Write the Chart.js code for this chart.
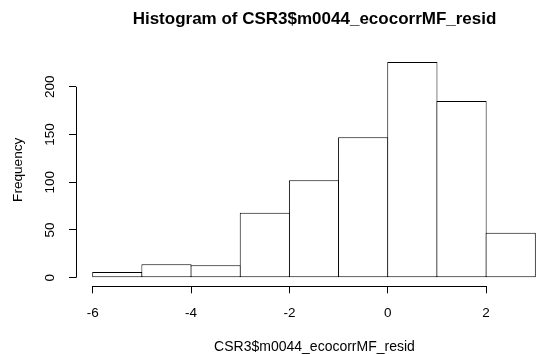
<!DOCTYPE html>
<html>
<head>
<meta charset="utf-8">
<script src="https://cdn.jsdelivr.net/npm/chart.js@4.4.1/dist/chart.umd.min.js"></script>
<style>
  html, body { margin: 0; padding: 0; background: #fff; overflow: hidden; }
  /* R's plot region runs a little past the right edge of the picture */
  #wrap { width: 536px; height: 354px; overflow: hidden; }
</style>
</head>
<body>
<div id="wrap"><canvas id="hist" width="553" height="354"></canvas></div>
<script>
// histogram bins (width 1) and their counts
const binMids = [-5.5, -4.5, -3.5, -2.5, -1.5, -0.5, 0.5, 1.5, 2.5];
const counts = [6, 14, 13, 68, 102, 147, 226, 185, 47];
const xTicks = [-6, -4, -2, 0, 2];
const yTicks = [0, 50, 100, 150, 200];

Chart.defaults.font.family = '"Liberation Sans", Arial, sans-serif';
Chart.defaults.color = '#000';

// R style axis lines: only span from first to last tick
const axisLines = {
    id: 'axisLines',
    afterDraw(chart) {
        const {ctx, scales: {x, y}} = chart;
        const xl = Math.round(x.top) + 0.5;
        const yl = Math.round(y.right) + 0.5;
        ctx.save();
        ctx.strokeStyle = '#000';
        ctx.lineWidth = 1;
        ctx.beginPath();
        ctx.moveTo(x.getPixelForValue(xTicks[0]), xl);
        ctx.lineTo(x.getPixelForValue(xTicks[xTicks.length - 1]), xl);
        ctx.moveTo(yl, y.getPixelForValue(yTicks[0]));
        ctx.lineTo(yl, y.getPixelForValue(yTicks[yTicks.length - 1]));
        ctx.stroke();
        ctx.restore();
    }
};

new Chart(document.getElementById('hist'), {
    type: 'bar',
    data: {
        datasets: [{
            data: binMids.map((m, i) => ({x: m, y: counts[i]})),
            backgroundColor: '#fff',
            borderColor: '#000',
            borderWidth: 1,
            borderSkipped: false,
            barPercentage: 1.021,
            categoryPercentage: 1,
            grouped: false
        }]
    },
    options: {
        responsive: false,
        animation: false,
        devicePixelRatio: 1,
        layout: { padding: 0 },
        plugins: {
            legend: { display: false },
            tooltip: { enabled: false },
            title: {
                display: true,
                text: 'Histogram of CSR3$m0044_ecocorrMF_resid',
                fullSize: false,
                color: '#000',
                font: { size: 17, weight: 'bold' },
                padding: { top: 9.3, bottom: 23.6 }
            }
        },
        scales: {
            x: {
                type: 'linear',
                offset: false,
                min: -6.34,
                max: 3.36,
                afterBuildTicks: s => { s.ticks = xTicks.map(v => ({value: v})); },
                afterFit: s => { s.height = 67.7; },
                grid: { offset: false, drawOnChartArea: false, tickLength: 7, color: '#000' },
                border: { display: false },
                ticks: { font: { size: 13.5 }, color: '#000', padding: 12, maxRotation: 0 },
                title: {
                    display: true,
                    text: 'CSR3$m0044_ecocorrMF_resid',
                    font: { size: 14, lineHeight: 1 },
                    color: '#000',
                    padding: { top: 0, bottom: 0 }
                }
            },
            y: {
                min: -9.04,
                max: 235.04,
                afterBuildTicks: s => { s.ticks = yTicks.map(v => ({value: v})); },
                afterFit: s => { s.width = 76; },
                grid: { drawOnChartArea: false, tickLength: 7, color: '#000' },
                border: { display: false },
                ticks: { font: { size: 13.5 }, color: '#000', padding: 7, minRotation: 90, maxRotation: 90, crossAlign: 'center' },
                title: {
                    display: true,
                    text: 'Frequency',
                    font: { size: 13.6 },
                    color: '#000',
                    padding: { top: 9.8, bottom: 0 }
                }
            }
        }
    },
    plugins: [axisLines]
});
</script>
</body>
</html>
